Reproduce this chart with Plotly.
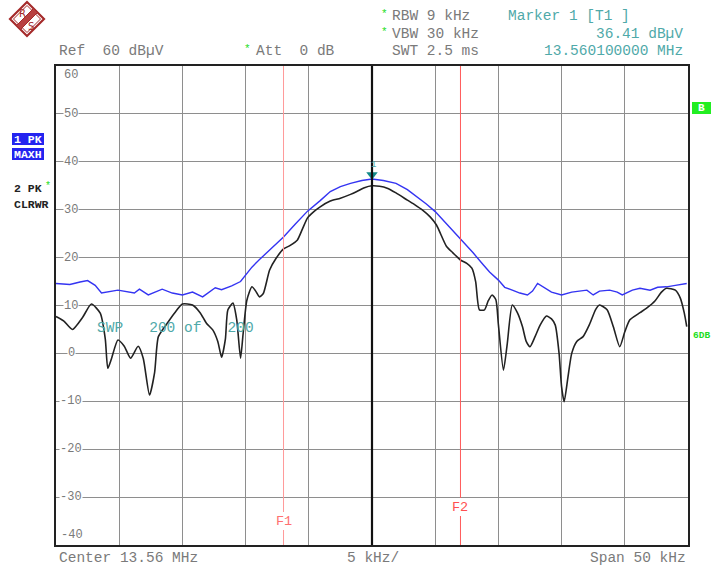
import plotly.graph_objects as go

# ---- data (frequency offset from 13.56 MHz in kHz, level in dBuV) ----
blue_f = [-25.0, -23.9, -23.1, -22.5, -21.9, -21.4, -20.1, -18.8, -18.4, -17.7, -16.6, -15.8, -15.0,
          -14.2, -13.4, -13.0, -12.4, -11.9, -11.1, -10.4, -10.0, -9.5, -8.9, -8.1, -7.0, -6.1, -5.1,
          -4.1, -3.3, -2.5, -1.7, -0.8, 0.0, 0.9, 1.9, 2.8, 3.6, 4.3, 5.0, 5.9, 7.0, 8.0, 8.8, 9.3,
          10.0, 10.5, 11.1, 11.7, 12.3, 12.7, 13.1, 13.7, 14.2, 15.0, 15.8, 16.4, 17.0, 17.5, 18.0,
          18.8, 19.4, 19.8, 20.6, 21.2, 22.0, 22.6, 23.3, 24.0, 24.9]
blue_db = [14.6, 14.4, 14.9, 15.2, 14.2, 12.6, 13.2, 12.6, 13.4, 12.2, 13.4, 12.6, 12.2,
           12.8, 11.8, 12.6, 13.7, 13.3, 14.1, 15.0, 16.4, 18.0, 19.6, 21.6, 24.3, 26.9, 29.7,
           31.9, 33.8, 34.8, 35.5, 36.1, 36.41, 36.1, 35.5, 34.2, 32.7, 31.2, 29.6, 27.0, 24.0, 21.0, 18.5, 17.0,
           15.3, 13.8, 13.2, 12.6, 12.2, 13.0, 14.6, 13.6, 12.8, 12.2, 12.8, 13.0, 13.2, 12.2, 13.0,
           13.2, 12.8, 12.2, 13.2, 13.6, 13.2, 13.8, 13.9, 14.2, 14.6]

black_f = [-25.0, -24.4, -23.7, -22.9, -22.2, -21.5, -21.1, -20.9, -20.6, -20.1, -19.6, -19.1, -18.5,
           -18.1, -17.6, -17.2, -16.9, -16.2, -15.6, -15.0, -14.2, -13.6, -13.1, -12.6, -12.2, -11.9,
           -11.6, -11.4, -11.0, -10.7, -10.4, -10.2, -9.9, -9.5, -9.2, -8.9, -8.6, -8.1, -7.6, -7.0,
           -6.5, -5.9, -5.5, -5.1, -4.6, -4.1, -3.3, -2.5, -1.7, -1.2, -0.6, 0.0, 0.6, 1.2, 1.9, 2.8,
           3.4, 4.0, 4.6, 5.1, 5.9, 6.4, 7.0, 7.5, 7.9, 8.2, 8.5, 8.9, 9.2, 9.5, 9.8, 10.0, 10.4,
           10.7, 11.1, 11.5, 11.9, 12.2, 12.5, 12.9, 13.3, 13.8, 14.2, 14.5, 14.8, 15.0, 15.2, 15.5,
           15.8, 16.2, 16.7, 17.2, 17.7, 18.0, 18.6, 19.1, 19.6, 20.0, 20.4, 21.2, 21.7, 22.4, 22.9,
           23.3, 24.0, 24.4, 24.7, 24.9]
black_db = [7.7, 6.8, 5.0, 7.5, 10.3, 8.4, 3.0, -3.1, -1.0, 2.8, 1.5, -1.0, 1.5,
            -1.0, -8.7, -4.0, 3.5, 6.3, 8.5, 10.3, 10.1, 8.5, 6.3, 4.9, 2.5, -0.8,
            3.0, 9.1, 10.5, 7.0, -1.0, 4.0, 11.1, 13.9, 13.0, 11.8, 12.5, 17.4, 19.8, 21.8,
            22.5, 23.7, 26.0, 28.3, 29.6, 30.6, 31.8, 32.4, 33.2, 33.8, 34.6, 35.0, 34.9, 34.5, 33.5, 32.0,
            31.0, 29.9, 28.5, 26.8, 22.3, 21.0, 19.5, 18.8, 17.8, 15.0, 9.1, 9.1, 11.0, 12.2, 11.2, 6.0, -3.5,
            2.0, 10.1, 8.5, 5.6, 2.5, 1.4, 3.5, 5.9, 7.8, 7.2, 5.9, 0.0, -7.0, -10.1, -5.0,
            0.0, 2.5, 3.5, 6.0, 9.2, 10.1, 9.1, 5.5, 1.4, 4.5, 7.0, 8.5, 9.4, 11.0, 12.8,
            13.6, 13.2, 11.5, 8.5, 5.6]

y_ticks = [50, 40, 30, 20, 10, 0, -10, -20, -30]
y_min, y_max = -40, 60
span_khz = 50
f1_khz, f2_khz = -7.0, 7.0
marker_f, marker_db = 0.0, 36.41

MONO = "Liberation Mono, Courier New, monospace"
GRAY = "#7a7a7a"
TEAL = "#4fa9a9"

# window pixel geometry (body margin removed via post_script)
L, R, T, B = 56, 688, 66, 545
W, H = 711, 572


def px(x):
    return (x - L) / (R - L)


def py(y):
    return (B - y) / (B - T)


fig = go.Figure()
fig.add_trace(go.Scatter(x=blue_f, y=blue_db, mode="lines",
                         line=dict(color="#3434f2", width=1.4), hoverinfo="skip"))
fig.add_trace(go.Scatter(x=black_f, y=black_db, mode="lines",
                         line=dict(color="#222222", width=1.6, shape="spline", smoothing=0.6),
                         hoverinfo="skip"))
fig.add_trace(go.Scatter(x=[marker_f], y=[marker_db + 0.9], mode="markers",
                         marker=dict(symbol="triangle-down", size=10, color="#138a8a"),
                         hoverinfo="skip"))

shapes = []
shapes.append(dict(type="line", xref="x", yref="paper", x0=0, x1=0, y0=0, y1=1,
                   line=dict(color="#111111", width=2.2)))
for fx, col, lab_y in [(f1_khz, "#ff9a9a", 521), (f2_khz, "#ff5a5a", 507)]:
    shapes.append(dict(type="line", xref="x", yref="paper", x0=fx, x1=fx, y0=0, y1=py(lab_y + 9),
                       line=dict(color=col, width=1)))
    shapes.append(dict(type="line", xref="x", yref="paper", x0=fx, x1=fx, y0=py(lab_y - 9), y1=1,
                       line=dict(color=col, width=1)))

# R&S logo
cx, cy, s = 27, 19, 17


def diamond(cx, cy, s):
    return (f"M {px(cx)} {py(cy - s)} L {px(cx + s)} {py(cy)} L {px(cx)} {py(cy + s)} "
            f"L {px(cx - s)} {py(cy)} Z")


shapes.append(dict(type="path", xref="paper", yref="paper", path=diamond(cx, cy, s),
                   line=dict(color="#a52a2a", width=2.2), fillcolor="white"))
shapes.append(dict(type="path", xref="paper", yref="paper", path=diamond(cx, cy, s - 3.5),
                   line=dict(color="#a52a2a", width=1), fillcolor="rgba(0,0,0,0)"))
h = s / 2
band = (f"M {px(cx - h - 2)} {py(cy + h - 2)} L {px(cx - h + 2)} {py(cy + h + 2)} "
        f"L {px(cx + h + 2)} {py(cy - h + 2)} L {px(cx + h - 2)} {py(cy - h - 2)} Z")
shapes.append(dict(type="path", xref="paper", yref="paper", path=band,
                   line=dict(color="#a52a2a", width=1), fillcolor="#b84040"))

# side label boxes
for (x0, y0, x1, y1, col) in [(12, 133, 44, 145, "#2424f0"), (12, 148, 44, 160, "#2424f0"),
                              (692, 102, 711, 114, "#22ee22")]:
    shapes.append(dict(type="rect", xref="paper", yref="paper", x0=px(x0), x1=px(x1),
                       y0=py(y1), y1=py(y0), line=dict(width=0), fillcolor=col, layer="below"))

ann = []


def text(x, y, t, color=GRAY, size=14.5, xanchor="left", bold=False, family=MONO):
    ann.append(dict(xref="paper", yref="paper", x=px(x), y=py(y), text=f"<b>{t}</b>" if bold else t,
                    showarrow=False, xanchor=xanchor, yanchor="middle",
                    font=dict(family=family, size=size, color=color)))


text(22, 13, "R", color="#a52a2a", size=10, family="DejaVu Sans", xanchor="center")
text(31, 26, "S", color="#a52a2a", size=10, family="DejaVu Sans", xanchor="center")

text(57, 51, "Ref  60 dBµV")
text(247, 49, "*", color="#22dd22", size=11, xanchor="center")
text(254, 51, "Att  0 dB")
text(384, 14, "*", color="#22dd22", size=11, xanchor="center")
text(390, 16, "RBW 9 kHz")
text(384, 32, "*", color="#22dd22", size=11, xanchor="center")
text(390, 34, "VBW 30 kHz")
text(390, 51, "SWT 2.5 ms")
text(506, 16, "Marker 1 [T1 ]", color=TEAL)
text(685, 34, "36.41 dBµV", color=TEAL, xanchor="right")
text(685, 51, "13.560100000 MHz", color=TEAL, xanchor="right")

text(57, 558, "Center 13.56 MHz")
text(373, 558, "5 kHz/", xanchor="center")
text(688, 558, "Span 50 kHz", xanchor="right")

text(95, 328, "SWP   200 of   200", color=TEAL)
text(373, 165, "1", color=TEAL, size=9, xanchor="center")
text(284, 521, "F1", color="#ff7070", size=13.5, xanchor="center")
text(460, 507, "F2", color="#ff5050", size=13.5, xanchor="center")

text(28, 139, "1 PK", color="white", size=11.5, bold=True, xanchor="center")
text(28, 154, "MAXH", color="white", size=11.5, bold=True, xanchor="center")
text(12, 188, "2 PK", color="#222222", size=11.5, bold=True)
text(48, 186, "*", color="#22dd22", size=10, xanchor="center")
text(12, 204, "CLRWR", color="#222222", size=11.5, bold=True)
text(702, 108, "B", color="white", size=11, bold=True, xanchor="center")
text(691, 335, "6DB", color="#22dd22", size=9.5, bold=True)

for v in y_ticks:
    ann.append(dict(xref="paper", yref="y", x=px(71), y=v, text=str(v), showarrow=False,
                    xanchor="center", yanchor="middle", bgcolor="white", borderpad=0,
                    font=dict(family=MONO, size=12, color=GRAY)))
text(71, 75, "60", size=12, xanchor="center")
text(72, 535, "-40", size=12, xanchor="center")

fig.update_layout(
    width=W, height=H,
    margin=dict(l=L, r=W - R, t=T, b=H - B, pad=0),
    paper_bgcolor="white", plot_bgcolor="white", showlegend=False,
    shapes=shapes, annotations=ann,
    xaxis=dict(range=[-span_khz / 2, span_khz / 2], dtick=5, showticklabels=False,
               showgrid=True, gridcolor="#8e8e8e", gridwidth=1, zeroline=False,
               showline=True, mirror=True, linecolor="#222222", linewidth=2, ticks=""),
    yaxis=dict(range=[y_min, y_max], dtick=10, showticklabels=False,
               showgrid=True, gridcolor="#8e8e8e", gridwidth=1, zeroline=False,
               showline=True, mirror=True, linecolor="#222222", linewidth=2, ticks=""),
)

fig.write_html("out.html", config={"displayModeBar": False, "staticPlot": True},
               post_script="document.body.style.margin='0';document.body.style.overflow='hidden';")
